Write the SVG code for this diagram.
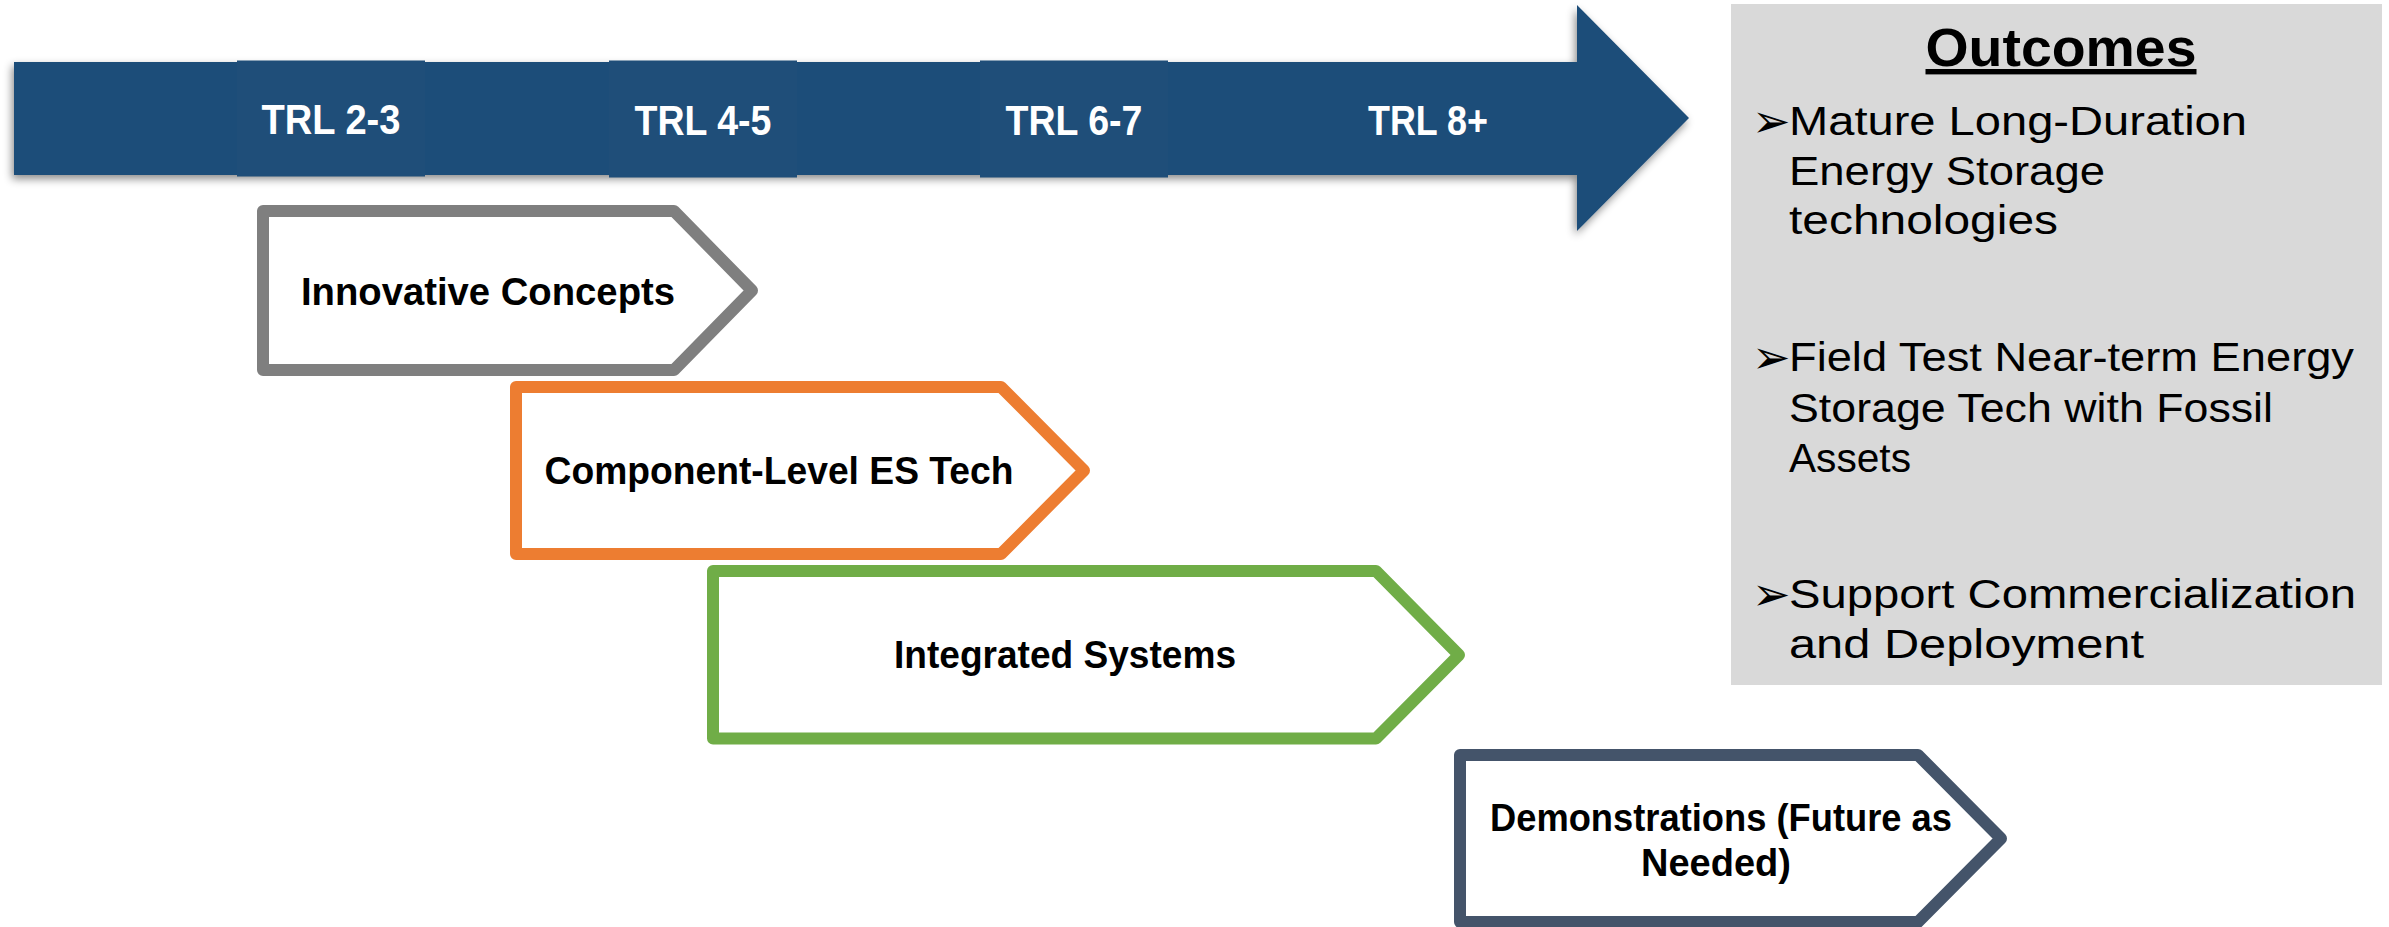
<svg xmlns="http://www.w3.org/2000/svg" width="2389" height="927" viewBox="0 0 2389 927">
  <defs>
    <filter id="shadow" x="-5%" y="-20%" width="110%" height="150%">
      <feDropShadow dx="-2" dy="4" stdDeviation="4" flood-color="#000" flood-opacity="0.45"/>
    </filter>
  </defs>
  <style>
    .trl { font-family: "Liberation Sans", Arial, sans-serif; font-weight: bold; font-size: 42px; fill: #ffffff; text-anchor: middle; }
    .chev { fill: #ffffff; stroke-width: 12; stroke-linejoin: round; }
    .lbl { font-family: "Liberation Sans", Arial, sans-serif; font-weight: bold; font-size: 38px; fill: #000000; text-anchor: middle; }
    .out { font-family: "Liberation Sans", Arial, sans-serif; font-size: 40px; fill: #000000; }
    .bul { font-family: "DejaVu Sans", sans-serif; font-size: 46px; fill: #000000; }
    .blue { fill: #1f4e79; }
  </style>
  <rect width="2389" height="927" fill="#ffffff"/>

  <g id="timeline">
    <path class="blue" filter="url(#shadow)" d="M14,62 H1577 V5 L1689,118 L1577,231 V175 H14 Z"/>
    <rect class="blue" x="237" y="60.5" width="188" height="116"/>
    <rect class="blue" x="609" y="60.5" width="188" height="117"/>
    <rect class="blue" x="980" y="60.5" width="188" height="117"/>
    <text class="trl" x="331" y="134" textLength="139" lengthAdjust="spacingAndGlyphs">TRL 2-3</text>
    <text class="trl" x="703" y="135" textLength="137" lengthAdjust="spacingAndGlyphs">TRL 4-5</text>
    <text class="trl" x="1074" y="135" textLength="137" lengthAdjust="spacingAndGlyphs">TRL 6-7</text>
    <text class="trl" x="1428" y="135" textLength="120" lengthAdjust="spacingAndGlyphs">TRL 8+</text>
  </g>

  <g id="outcomes">
    <rect x="1731" y="4" width="651" height="681" fill="#d9d9d9"/>
    <text x="2061" y="66" font-family="Liberation Sans, Arial, sans-serif" font-weight="bold" font-size="54" text-anchor="middle" text-decoration="underline" textLength="271" lengthAdjust="spacingAndGlyphs">Outcomes</text>
    <text class="bul" x="1752" y="137">➢</text>
    <text class="out" x="1789" y="135" textLength="458" lengthAdjust="spacingAndGlyphs">Mature Long-Duration</text>
    <text class="out" x="1789" y="185" textLength="316" lengthAdjust="spacingAndGlyphs">Energy Storage</text>
    <text class="out" x="1789" y="234" textLength="269" lengthAdjust="spacingAndGlyphs">technologies</text>
    <text class="bul" x="1752" y="373">➢</text>
    <text class="out" x="1789" y="371" textLength="565" lengthAdjust="spacingAndGlyphs">Field Test Near-term Energy</text>
    <text class="out" x="1789" y="422" textLength="484" lengthAdjust="spacingAndGlyphs">Storage Tech with Fossil</text>
    <text class="out" x="1789" y="472" textLength="122" lengthAdjust="spacingAndGlyphs">Assets</text>
    <text class="bul" x="1752" y="610">➢</text>
    <text class="out" x="1789" y="608" textLength="567" lengthAdjust="spacingAndGlyphs">Support Commercialization</text>
    <text class="out" x="1789" y="658" textLength="355" lengthAdjust="spacingAndGlyphs">and Deployment</text>
  </g>

  <g id="innovative-concepts">
    <path class="chev" stroke="#7f7f7f" d="M263,211 H674 L752,290.5 L674,370 H263 Z"/>
    <text class="lbl" x="488" y="305" textLength="374" lengthAdjust="spacingAndGlyphs">Innovative Concepts</text>
  </g>

  <g id="component-level">
    <path class="chev" stroke="#ed7d31" d="M516,387 H1001 L1084,470.5 L1001,554 H516 Z"/>
    <text class="lbl" x="779" y="484" textLength="469" lengthAdjust="spacingAndGlyphs">Component-Level ES Tech</text>
  </g>

  <g id="integrated-systems">
    <path class="chev" stroke="#70ad47" d="M713,571 H1376 L1459,655 L1376,738.5 H713 Z"/>
    <text class="lbl" x="1065" y="668" textLength="342" lengthAdjust="spacingAndGlyphs">Integrated Systems</text>
  </g>

  <g id="demonstrations">
    <path class="chev" stroke="#44546a" d="M1460,755 H1918 L2001,838.5 L1918,922 H1460 Z"/>
    <text class="lbl" x="1721" y="831" font-size="36" textLength="462" lengthAdjust="spacingAndGlyphs">Demonstrations (Future as</text>
    <text class="lbl" x="1716" y="876" font-size="36">Needed)</text>
  </g>
</svg>
